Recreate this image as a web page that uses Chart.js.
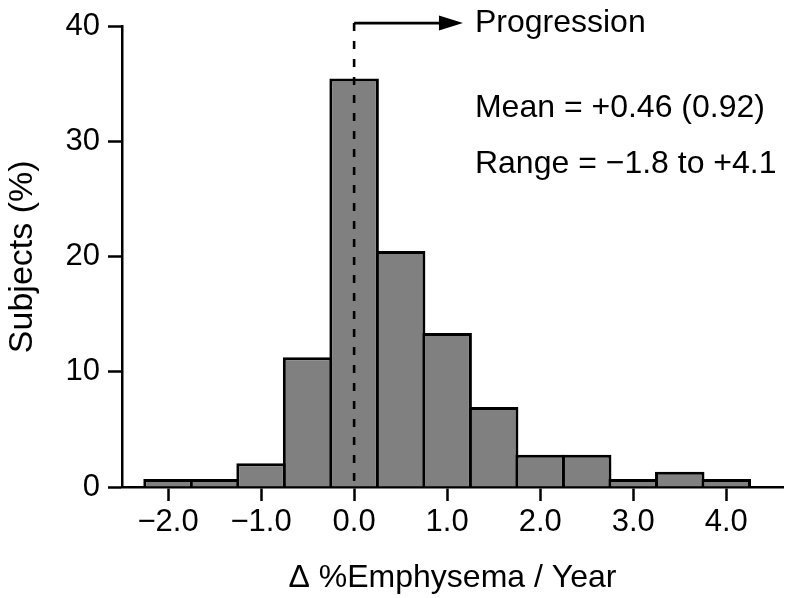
<!DOCTYPE html>
<html>
<head>
<meta charset="utf-8">
<script src="https://cdn.jsdelivr.net/npm/chart.js@4.4.0/dist/chart.umd.min.js"></script>
<style>
  html, body { margin: 0; padding: 0; background: #fff; }
</style>
</head>
<body>
<canvas id="hist" width="788" height="598"></canvas>
<script>
// bin centres (bins are 0.5 wide) and % of subjects in each bin
const binCenters = [-2.0, -1.5, -1.0, -0.5, 0.0, 0.5, 1.0, 1.5, 2.0, 2.5, 3.0, 3.5, 4.0];
const subjectsPct = [0.69, 0.69, 2.07, 11.28, 35.5, 20.5, 13.38, 6.96, 2.8, 2.8, 0.69, 1.33, 0.69];
const xTickValues = [-2, -1, 0, 1, 2, 3, 4];
const yTickValues = [0, 10, 20, 30, 40];
const progressionEnd = 1.17;
const noteLines = ['Mean = +0.46 (0.92)', 'Range = \u22121.8 to +4.1'];

const FONT = '"Liberation Sans", Arial, Helvetica, sans-serif';

const overlay = {
  id: 'overlay',
  afterDatasetsDraw(chart) {
    const { ctx, chartArea } = chart;
    const xs = chart.scales.x;
    const x0 = xs.getPixelForValue(0);
    const yTop = chartArea.top - 3.5;
    ctx.save();
    ctx.strokeStyle = '#000';
    ctx.lineWidth = 2.6;

    // dashed line at zero
    ctx.setLineDash([8, 10]);
    ctx.beginPath();
    ctx.moveTo(x0, yTop);
    ctx.lineTo(x0, chartArea.bottom);
    ctx.stroke();
    ctx.setLineDash([]);

    // arrow
    const xEnd = xs.getPixelForValue(progressionEnd);
    ctx.beginPath();
    ctx.moveTo(x0, yTop);
    ctx.lineTo(xEnd - 16, yTop);
    ctx.stroke();
    ctx.fillStyle = '#000';
    ctx.beginPath();
    ctx.moveTo(xEnd, yTop);
    ctx.lineTo(xEnd - 24, yTop - 7.5);
    ctx.lineTo(xEnd - 24, yTop + 7.5);
    ctx.closePath();
    ctx.fill();

    // texts
    ctx.font = '32px ' + FONT;
    ctx.textAlign = 'left';
    ctx.textBaseline = 'alphabetic';
    ctx.fillText('Progression', xEnd + 12, 31.5);
    ctx.fillText(noteLines[0], xEnd + 12, 116.5);
    ctx.fillText(noteLines[1], xEnd + 12, 173);
    ctx.restore();
  }
};

new Chart(document.getElementById('hist'), {
  type: 'bar',
  data: {
    datasets: [{
      data: binCenters.map((c, i) => ({ x: c, y: subjectsPct[i] })),
      backgroundColor: '#808080',
      borderColor: '#000',
      borderWidth: 3,
      borderSkipped: 'start',
      categoryPercentage: 1,
      barPercentage: 1.0645
    }]
  },
  options: {
    responsive: false,
    devicePixelRatio: 1,
    animation: false,
    layout: { padding: { top: 23, right: 5, left: 0, bottom: 0 } },
    plugins: {
      legend: { display: false },
      tooltip: { enabled: false }
    },
    scales: {
      x: {
        type: 'linear',
        min: -2.495,
        max: 4.61,
        offset: false,
        afterBuildTicks: s => { s.ticks = xTickValues.map(v => ({ value: v })); },
        afterFit: s => { s.height = 111; },
        grid: { display: true, drawOnChartArea: false, drawTicks: true, tickLength: 14, tickWidth: 2.5, tickColor: '#000', offset: false },
        border: { display: true, color: '#000', width: 2.5 },
        ticks: {
          color: '#000',
          padding: 3,
          maxRotation: 0,
          font: { family: FONT, size: 31 },
          callback: v => (v < 0 ? '\u2212' : '') + Math.abs(v).toFixed(1)
        },
        title: {
          display: true,
          text: '\u0394 %Emphysema / Year',
          color: '#000',
          font: { family: FONT, size: 32 },
          padding: { top: 0, bottom: 1 }
        }
      },
      y: {
        min: 0,
        max: 40,
        afterBuildTicks: s => { s.ticks = yTickValues.map(v => ({ value: v })); },
        afterFit: s => { s.width = 122; },
        grid: { display: true, drawOnChartArea: false, drawTicks: true, tickLength: 14, tickWidth: 2.5, tickColor: '#000' },
        border: { display: true, color: '#000', width: 2.5 },
        ticks: {
          color: '#000',
          padding: 8,
          font: { family: FONT, size: 31 }
        },
        title: {
          display: true,
          text: 'Subjects (%)',
          color: '#000',
          font: { family: FONT, size: 34 },
          padding: { top: 2, bottom: 0 }
        }
      }
    }
  },
  plugins: [overlay]
});
</script>
</body>
</html>
